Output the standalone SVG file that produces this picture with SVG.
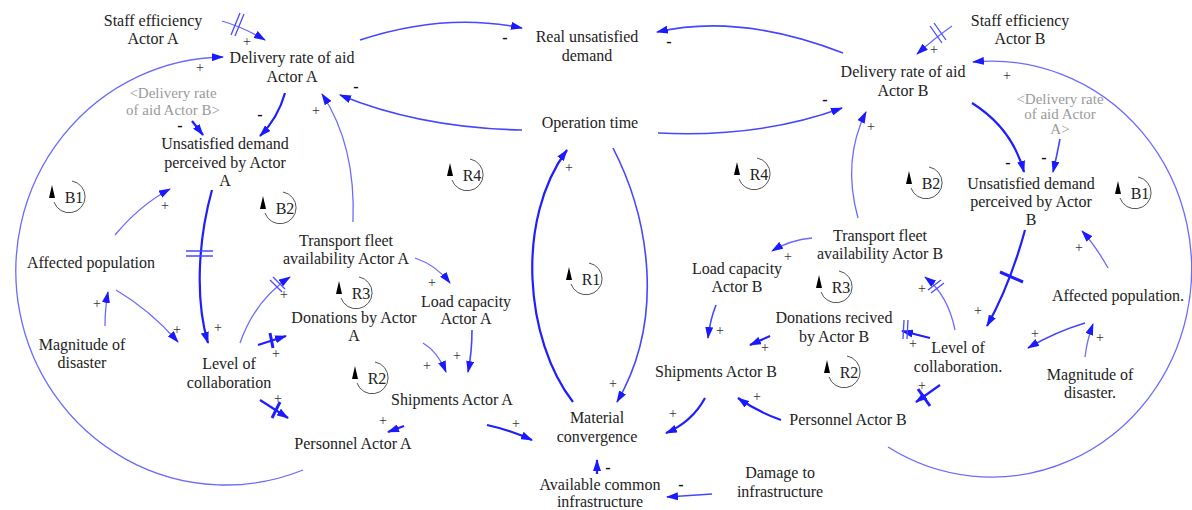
<svg xmlns="http://www.w3.org/2000/svg" xmlns:xlink="http://www.w3.org/1999/xlink" width="1192" height="510" viewBox="0 0 1192 510">
<style>
.n{font-size:16px;fill:#222;text-anchor:middle}
.g{font-size:15px;fill:#9a9a9a;text-anchor:middle}
.s{font-size:14px;fill:#333;text-anchor:middle}
.m{font-size:16px;font-weight:bold;fill:#111;text-anchor:middle}
.lt{font-size:16px;fill:#222;text-anchor:middle}
.thin{fill:none;stroke:#6a6aff;stroke-width:1.3;marker-end:url(#ah)}
.med{fill:none;stroke:#4646ff;stroke-width:1.6;marker-end:url(#ah)}
.thick{fill:none;stroke:#1e1eff;stroke-width:2.2;marker-end:url(#ah)}
.dl{fill:none;stroke:#4a4aff;stroke-width:1.3}
.dk{fill:none;stroke:#1e1eff;stroke-width:3}
.lc{fill:none;stroke:#555;stroke-width:1}
</style>
<defs>
<marker id="ah" viewBox="0 0 12 8" refX="11" refY="4" markerWidth="12" markerHeight="8" markerUnits="userSpaceOnUse" orient="auto"><path d="M0,0 L12,4 L0,8 z" fill="#1a1aff"/></marker>
<g id="loop"><path class="lc" d="M 3 -16 A 16 16 0 1 1 -15 5"/><path d="M -17 -12 L -20 1 L -14 1 z" fill="#000"/></g>
</defs>
<rect width="1192" height="510" fill="#fff"/>

<g id="connectors">
<path class="thin" d="M 222 21 Q 245 28 265 40"/>
<path class="dl" d="M 231 35 L 240 13 M 235 36 L 244 14"/>
<path class="thin" d="M 303 470 A 210 214 0 1 1 223 57"/>
<path class="thin" d="M 888 447 A 200 208 0 1 0 973 62"/>
<path class="med" d="M 360 40 Q 445 12 522 28"/>
<path class="med" d="M 843 53 Q 740 13 657 32"/>
<path class="med" d="M 522 130 Q 420 128 340 95"/>
<path class="med" d="M 658 133 Q 760 138 842 108"/>
<path class="thick" d="M 285 93 Q 278 118 260 136"/>
<path class="thick" d="M 192 121 L 203 135"/>
<path class="thick" d="M 212 190 C 198 240 195 300 208 343"/>
<path class="dl" d="M 186 251 L 213 251 M 186 256 L 213 256"/>
<path class="thin" d="M 115 235 Q 140 205 170 189"/>
<path class="thin" d="M 105 326 Q 105 308 108 292"/>
<path class="thin" d="M 116 290 Q 150 310 178 342"/>
<path class="thin" d="M 240 343 Q 255 300 290 277"/>
<path class="dl" d="M 270 280 L 282 292 M 273 277 L 285 289"/>
<path class="thick" d="M 258 345 L 286 336"/>
<path class="dk" d="M 270 333 L 273 348"/>
<path class="thick" d="M 260 400 L 288 418"/>
<path class="dk" d="M 280 402 L 272 418"/>
<path class="thin" d="M 353 222 Q 356 145 322 94"/>
<path class="thin" d="M 415 258 Q 436 265 450 283"/>
<path class="thin" d="M 423 343 Q 438 352 446 372"/>
<path class="med" d="M 472 330 Q 472 352 468 372"/>
<path class="thick" d="M 404 426 L 388 432"/>
<path class="thick" d="M 487 425 Q 510 430 532 440"/>
<path class="thick" d="M 573 402 C 525 340 515 220 567 150"/>
<path class="med" d="M 613 148 C 650 220 665 320 617 402"/>
<path class="thick" d="M 705 398 Q 692 422 666 433"/>
<path class="thick" d="M 781 420 Q 758 412 738 398"/>
<path class="thick" d="M 597 474 L 597 460"/>
<path class="med" d="M 712 494 L 667 497"/>
<path class="med" d="M 716 305 Q 710 320 708 338"/>
<path class="thick" d="M 770 336 L 750 345"/>
<path class="thin" d="M 812 238 Q 790 240 772 251"/>
<path class="thin" d="M 858 218 Q 842 160 866 112"/>
<path class="thick" d="M 972 103 Q 1012 128 1024 172"/>
<path class="med" d="M 1060 139 Q 1057 155 1053 172"/>
<path class="thin" d="M 952 26 Q 935 38 917 54"/>
<path class="dl" d="M 930 26 L 942 43 M 934 23 L 946 40"/>
<path class="thick" d="M 1025 230 Q 1010 285 987 326"/>
<path class="dk" d="M 1000 272 L 1023 282"/>
<path class="thin" d="M 1108 268 Q 1095 245 1082 231"/>
<path class="med" d="M 1085 323 Q 1055 332 1028 348"/>
<path class="thin" d="M 1085 357 Q 1087 340 1093 324"/>
<path class="thin" d="M 955 330 Q 948 295 925 277"/>
<path class="dl" d="M 928 290 L 941 280 M 931 293 L 944 283"/>
<path class="thick" d="M 930 338 L 902 331"/>
<path class="dl" d="M 904 320 L 903 339 M 908 320 L 907 339"/>
<path class="thick" d="M 940 385 L 916 402"/>
<path class="dk" d="M 918 389 L 930 406"/>
</g>

<g font-family="Liberation Serif, DejaVu Serif, serif">
<g id="signs">
<text class="s" x="247" y="46">+</text>
<text class="s" x="200" y="72">+</text>
<text class="m" x="505" y="43">-</text>
<text class="m" x="669" y="47">-</text>
<text class="m" x="356" y="92">-</text>
<text class="m" x="825" y="105">-</text>
<text class="s" x="316" y="115">+</text>
<text class="s" x="871" y="131">+</text>
<text class="m" x="260" y="120">-</text>
<text class="m" x="180" y="131">-</text>
<text class="s" x="1007" y="80">+</text>
<text class="s" x="934" y="54">+</text>
<text class="m" x="1008" y="168">-</text>
<text class="m" x="1044" y="163">-</text>
<text class="s" x="165" y="210">+</text>
<text class="s" x="97" y="308">+</text>
<text class="s" x="177" y="334">+</text>
<text class="s" x="218" y="332">+</text>
<text class="s" x="284" y="299">+</text>
<text class="s" x="276" y="358">+</text>
<text class="s" x="278" y="403">+</text>
<text class="s" x="432" y="287">+</text>
<text class="s" x="427" y="370">+</text>
<text class="s" x="457" y="360">+</text>
<text class="s" x="383" y="425">+</text>
<text class="s" x="516" y="428">+</text>
<text class="s" x="569" y="172">+</text>
<text class="s" x="613" y="388">+</text>
<text class="s" x="673" y="418">+</text>
<text class="s" x="757" y="401">+</text>
<text class="m" x="608" y="473">-</text>
<text class="m" x="681" y="490">-</text>
<text class="s" x="720" y="335">+</text>
<text class="s" x="765" y="352">+</text>
<text class="s" x="788" y="261">+</text>
<text class="s" x="922" y="293">+</text>
<text class="s" x="978" y="315">+</text>
<text class="s" x="1079" y="252">+</text>
<text class="s" x="1035" y="338">+</text>
<text class="s" x="1100" y="342">+</text>
<text class="s" x="913" y="348">+</text>
<text class="s" x="922" y="390">+</text>
</g>

<g id="loops">
<use xlink:href="#loop" x="69" y="197"/><text class="lt" x="74" y="203">B1</text>
<use xlink:href="#loop" x="280" y="208"/><text class="lt" x="285" y="214">B2</text>
<use xlink:href="#loop" x="467" y="175"/><text class="lt" x="472" y="181">R4</text>
<use xlink:href="#loop" x="356" y="293"/><text class="lt" x="361" y="299">R3</text>
<use xlink:href="#loop" x="586" y="279"/><text class="lt" x="591" y="285">R1</text>
<use xlink:href="#loop" x="372" y="378"/><text class="lt" x="377" y="384">R2</text>
<use xlink:href="#loop" x="754" y="174"/><text class="lt" x="759" y="180">R4</text>
<use xlink:href="#loop" x="836" y="287"/><text class="lt" x="841" y="293">R3</text>
<use xlink:href="#loop" x="844" y="372"/><text class="lt" x="849" y="378">R2</text>
<use xlink:href="#loop" x="926" y="183"/><text class="lt" x="931" y="189">B2</text>
<use xlink:href="#loop" x="1135" y="193"/><text class="lt" x="1140" y="199">B1</text>
</g>

<g id="staff-a"><text class="n" x="153" y="26">Staff efficiency</text><text class="n" x="153" y="44">Actor A</text></g>
<g id="delivery-a"><text class="n" x="292" y="63">Delivery rate of aid</text><text class="n" x="292" y="82">Actor A</text></g>
<g id="real-unsat"><text class="n" x="587" y="42">Real unsatisfied</text><text class="n" x="587" y="61">demand</text></g>
<g id="delivery-b"><text class="n" x="903" y="77">Delivery rate of aid</text><text class="n" x="903" y="96">Actor B</text></g>
<g id="staff-b"><text class="n" x="1020" y="26">Staff efficiency</text><text class="n" x="1020" y="44">Actor B</text></g>
<g id="shadow-b"><text class="g" x="173" y="98">&lt;Delivery rate</text><text class="g" x="173" y="115">of aid Actor B&gt;</text></g>
<g id="unsat-a"><text class="n" x="225" y="149">Unsatisfied demand</text><text class="n" x="225" y="167.5">perceived by Actor</text><text class="n" x="225" y="186">A</text></g>
<g id="op-time"><text class="n" x="590" y="128">Operation time</text></g>
<g id="shadow-a"><text class="g" x="1060" y="104">&lt;Delivery rate</text><text class="g" x="1060" y="119">of aid Actor</text><text class="g" x="1060" y="134">A&gt;</text></g>
<g id="unsat-b"><text class="n" x="1031" y="189">Unsatisfied demand</text><text class="n" x="1031" y="207">perceived by Actor</text><text class="n" x="1031" y="225">B</text></g>
<g id="affected-a"><text class="n" x="91" y="268">Affected population</text></g>
<g id="magnitude-a"><text class="n" x="82" y="350">Magnitude of</text><text class="n" x="82" y="368">disaster</text></g>
<g id="collab-a"><text class="n" x="229" y="369">Level of</text><text class="n" x="229" y="388">collaboration</text></g>
<g id="fleet-a"><text class="n" x="346" y="246">Transport fleet</text><text class="n" x="346" y="264">availability Actor A</text></g>
<g id="load-a"><text class="n" x="466" y="307">Load capacity</text><text class="n" x="466" y="324">Actor A</text></g>
<g id="donations-a"><text class="n" x="354" y="323">Donations by Actor</text><text class="n" x="354" y="341">A</text></g>
<g id="shipments-a"><text class="n" x="452" y="405">Shipments Actor A</text></g>
<g id="personnel-a"><text class="n" x="353" y="449">Personnel Actor A</text></g>
<g id="material"><text class="n" x="597" y="423">Material</text><text class="n" x="597" y="442">convergence</text></g>
<g id="infra"><text class="n" x="600" y="490">Available common</text><text class="n" x="600" y="507">infrastructure</text></g>
<g id="damage"><text class="n" x="780" y="478">Damage to</text><text class="n" x="780" y="497">infrastructure</text></g>
<g id="shipments-b"><text class="n" x="716" y="377">Shipments Actor B</text></g>
<g id="personnel-b"><text class="n" x="848" y="425">Personnel Actor B</text></g>
<g id="load-b"><text class="n" x="737" y="274">Load capacity</text><text class="n" x="737" y="292">Actor B</text></g>
<g id="fleet-b"><text class="n" x="880" y="241">Transport fleet</text><text class="n" x="880" y="259">availability Actor B</text></g>
<g id="donations-b"><text class="n" x="834" y="323">Donations recived</text><text class="n" x="834" y="342">by Actor B</text></g>
<g id="collab-b"><text class="n" x="958" y="353">Level of</text><text class="n" x="958" y="372">collaboration.</text></g>
<g id="affected-b"><text class="n" x="1118" y="301">Affected population.</text></g>
<g id="magnitude-b"><text class="n" x="1090" y="380">Magnitude of</text><text class="n" x="1090" y="398">disaster.</text></g>
</g>
</svg>
